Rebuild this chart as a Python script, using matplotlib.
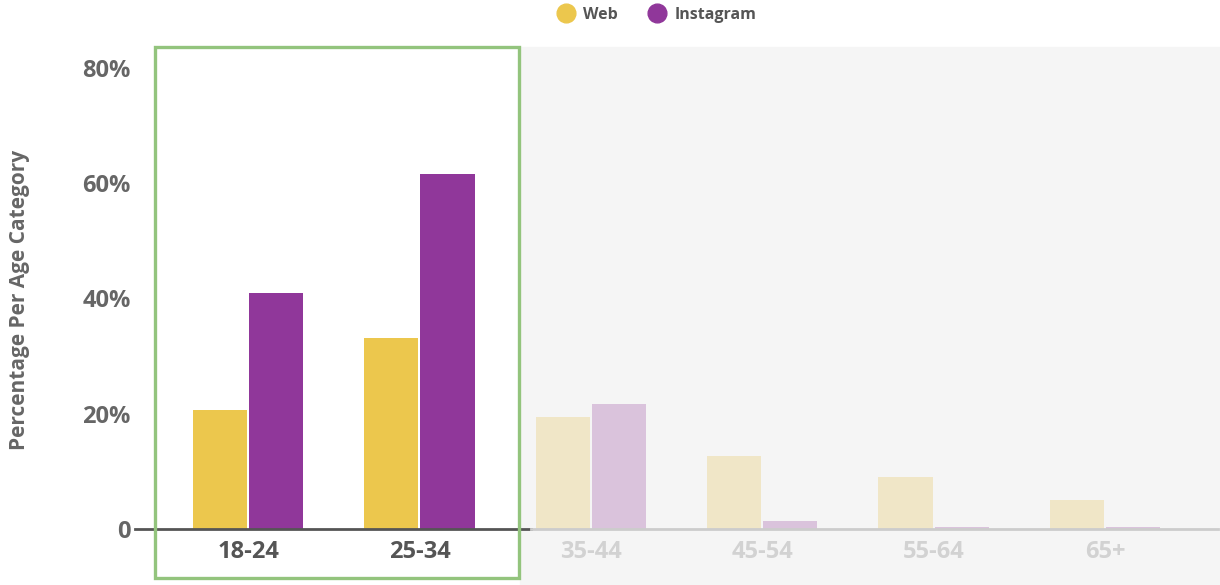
import matplotlib
matplotlib.use('Agg')
import matplotlib.pyplot as plt
from matplotlib.patches import Rectangle
from matplotlib.lines import Line2D
import numpy as np

plt.rcParams['font.family'] = ['Open Sans', 'DejaVu Sans']
plt.rcParams['font.weight'] = 'bold'

# data
categories = ['18-24', '25-34', '35-44', '45-54', '55-64', '65+']
web = [20.6, 33.2, 19.5, 12.7, 9.0, 5.1]
instagram = [40.9, 61.5, 21.7, 1.4, 0.3, 0.3]
highlighted = [True, True, False, False, False, False]
yticks = [0, 20, 40, 60, 80]
ytick_labels = ['0', '20%', '40%', '60%', '80%']

WEB = '#ecc74d'
INSTA = '#90379a'
WEB_FADED = '#f0e6c7'
INSTA_FADED = '#dac3dc'

W, H = 1220, 585
fig = plt.figure(figsize=(W / 100, H / 100), dpi=100)

# pixel positions of the plot area
left, right, top, base = 135, 1218, 47, 529
ax = fig.add_axes([left / W, 1 - base / H, (right - left) / W, (base - top) / H])
ax.set_facecolor('none')
ax.set_zorder(1)

# grey background behind the faded groups
fig.patches.append(Rectangle((520 / W, 0), 1 - 520 / W, 1 - top / H,
                             transform=fig.transFigure, color='#f5f5f5', zorder=0))

x = np.arange(len(categories))
bw = 0.316
off = 0.164
web_cols = [WEB if h else WEB_FADED for h in highlighted]
ins_cols = [INSTA if h else INSTA_FADED for h in highlighted]
ax.bar(x - off, web, bw, color=web_cols, zorder=2)
ax.bar(x + off, instagram, bw, color=ins_cols, zorder=2)

ax.set_xlim(-0.66, 5.66)
ax.set_ylim(0, 83.6)

for s in ax.spines.values():
    s.set_visible(False)

# baseline: dark in the highlighted part, light elsewhere
ax.plot([-0.66, 1.65], [0, 0], color='#555555', lw=2, zorder=3, clip_on=False)
ax.plot([1.65, 5.66], [0, 0], color='#cccccc', lw=2, zorder=3, clip_on=False)

ax.set_yticks(yticks)
ax.set_yticklabels(ytick_labels, fontsize=17, fontweight='bold', color='#666666')
ax.tick_params(axis='y', length=0, pad=3)
ax.set_xticks(x)
ax.set_xticklabels(categories, fontsize=17, fontweight='bold')
ax.tick_params(axis='x', length=0, pad=8)
for lab, h in zip(ax.get_xticklabels(), highlighted):
    lab.set_color('#555555' if h else '#d2d2d2')

fig.text(20 / W, 1 - 300 / H, 'Percentage Per Age Category', rotation=90,
         ha='center', va='center', fontsize=15, fontweight='bold', color='#666666')

# green highlight box
fig.patches.append(Rectangle((155 / W, 1 - 578 / H), (519 - 155) / W, (578 - 47) / H,
                             transform=fig.transFigure, fill=False,
                             edgecolor='#93c47d', lw=2.4, zorder=10))

handles = [Line2D([], [], marker='o', ls='', markersize=13.5, color=WEB),
           Line2D([], [], marker='o', ls='', markersize=13.5, color=INSTA)]
fig.legend(handles, ['Web', 'Instagram'], loc='center', bbox_to_anchor=(657 / W, 1 - 15 / H),
           ncol=2, frameon=False, handletextpad=0.55, columnspacing=2.0,
           prop={'size': 11.5, 'weight': 'bold'}, labelcolor='#555555', handlelength=1.0)

fig.savefig('out.png', dpi=100)
